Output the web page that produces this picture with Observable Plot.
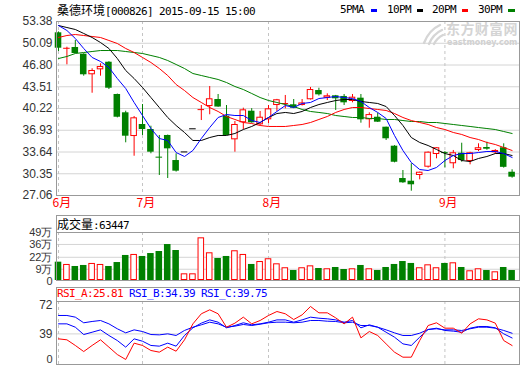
<!DOCTYPE html>
<html><head><meta charset="utf-8">
<script src="https://cdn.jsdelivr.net/npm/d3@7"></script>
<script src="https://cdn.jsdelivr.net/npm/@observablehq/plot@0.6"></script>
<style>
body{margin:0;background:#fff;}
#wrap{position:relative;width:520px;height:365px;overflow:hidden;background:#fff;}
.abs{position:absolute;white-space:nowrap;}
.mono{font-family:"DejaVu Sans Mono","Liberation Mono",monospace;font-size:11px;letter-spacing:-0.62px;}
.cjk{font-family:"Noto Sans CJK SC",sans-serif;font-size:12px;}
.box{position:absolute;border:1px solid #999;box-sizing:border-box;}
#wrap svg{position:absolute;left:0;}
</style></head><body><div id="wrap"></div>
<script>
// ---- data ----
const priceTicks = [27.06, 30.35, 33.64, 36.93, 40.22, 43.51, 46.80, 50.09, 53.38];
const volTicks = [0, 9, 22, 36, 49];
const rsiTicks = [0, 39, 72];
const monthIdx = [0, 10, 25, 46];
const monthLabels = ["6月", "7月", "8月", "9月"];

const open = [51.67,49.28,49.45,48.43,45.32,46.07,47.22,42.34,39.57,35.98,
37.80,37.04,32.86,36.14,32.35,33.65,37.15,40.00,40.52,41.58,
39.06,35.48,38.06,39.81,37.75,38.51,40.67,40.92,40.78,40.67,
41.54,42.94,41.78,42.14,42.04,41.28,41.78,38.51,38.90,37.39,
34.52,29.63,29.22,30.09,31.34,33.26,33.58,31.86,33.46,32.20,
33.87,34.32,33.52,34.28,30.58];
const high = [51.80,49.49,50.51,48.50,46.23,46.98,47.30,42.40,39.81,39.01,
40.82,37.54,36.14,36.20,33.37,33.65,37.15,40.67,43.55,42.34,
40.67,38.25,40.27,40.20,39.77,40.67,41.60,42.19,41.58,41.58,
43.40,43.29,42.44,42.20,42.34,42.34,42.34,39.57,39.51,37.40,
34.60,30.84,31.86,30.60,33.65,34.30,33.70,33.87,34.97,33.60,
34.88,35.12,34.00,34.88,30.95];
const low = [48.84,46.83,48.50,45.11,42.53,45.11,43.09,38.80,35.03,33.00,
36.14,33.37,30.09,29.63,30.60,33.65,37.15,38.40,39.27,40.40,
36.10,33.61,37.04,38.00,37.65,37.95,39.77,40.17,40.20,40.60,
41.50,42.10,41.43,39.92,40.67,41.08,38.00,37.24,38.10,35.38,
32.00,28.90,27.71,29.43,31.20,32.61,31.25,31.10,32.10,31.70,
33.70,33.90,33.30,31.20,29.68];
const close = [49.34,49.38,48.54,45.32,45.97,46.57,43.29,38.90,36.03,38.81,
37.04,33.61,32.86,34.12,30.74,33.65,37.15,40.10,41.69,40.44,
36.14,37.80,40.02,38.06,38.90,40.17,41.54,41.02,40.27,41.06,
43.09,42.29,42.14,41.69,41.08,41.93,38.51,39.30,38.15,35.64,
32.09,28.98,28.68,30.58,33.61,34.28,33.52,33.52,32.35,33.52,
34.28,34.06,33.87,31.32,29.83];
const volume = [16.7,14.2,12.0,13.1,15.3,14.2,12.0,16.3,24.0,25.1,
22.9,26.1,28.3,35.9,29.4,4.0,4.0,43.2,26.9,20.7,
22.9,29.1,25.1,14.2,17.4,20.4,14.9,10.6,7.6,10.6,
12.7,9.8,9.5,10.9,8.7,9.5,13.1,9.5,7.6,10.9,
14.2,17.4,15.3,10.6,13.8,10.6,15.3,16.0,10.9,7.3,
9.5,7.6,6.2,10.9,7.6];
const ma5 = [52.77,52.02,50.81,49.30,47.94,47.33,46.42,44.76,43.25,41.13,
39.16,37.19,35.68,35.38,33.56,32.96,33.87,35.68,37.34,38.86,
39.31,39.16,39.16,38.40,38.10,38.86,39.77,40.67,40.37,40.98,
41.13,41.73,41.88,42.03,41.88,41.73,41.28,40.37,39.62,38.71,
36.14,33.87,32.05,30.99,30.84,31.30,32.35,33.11,33.41,33.41,
33.56,33.72,33.72,33.41,32.81];
const ma10 = [52.77,52.47,52.17,51.57,50.96,50.20,49.30,47.78,45.97,44.76,
43.40,41.88,40.37,38.86,37.65,36.59,35.38,35.38,35.83,36.14,
36.14,36.44,37.04,37.50,38.10,38.86,39.46,39.62,39.46,39.77,
40.37,40.82,41.13,41.43,41.58,41.58,41.28,41.13,40.98,40.52,
39.16,37.65,35.83,35.08,34.62,34.02,33.41,33.11,32.35,32.20,
32.66,32.96,33.41,33.41,33.11];
const ma20 = [50.96,51.26,51.41,51.26,51.11,50.96,50.51,50.05,49.30,48.69,
47.94,47.18,46.27,45.21,43.85,42.94,41.88,41.13,40.37,39.77,
39.01,38.56,38.10,37.95,37.65,37.50,37.50,37.50,37.65,37.80,
38.10,38.56,39.01,39.62,40.07,40.37,40.37,40.22,40.07,39.92,
39.46,38.86,38.40,38.10,37.80,37.34,37.04,36.59,36.29,35.83,
35.53,35.08,34.77,34.32,33.87];
const ma30 = [47.78,48.09,48.54,48.69,48.84,48.99,48.99,48.99,48.84,48.69,
48.54,48.24,47.94,47.48,46.88,46.27,45.51,45.21,44.91,44.61,
44.15,43.55,43.09,42.49,41.88,41.43,41.13,40.82,40.52,40.07,
39.77,39.62,39.46,39.16,39.01,38.86,38.86,38.71,38.71,38.56,
38.56,38.40,38.25,38.25,38.10,38.10,37.95,37.80,37.65,37.50,
37.34,37.19,37.04,36.74,36.44];
const rsiA = [33.4,32.3,25.9,19.0,25.9,32.3,24.0,15.6,10.0,28.5,
25.9,20.2,18.3,24.0,19.4,32.3,50.4,61.8,66.3,61.8,
46.6,51.2,58.0,50.4,54.2,59.9,64.4,61.8,55.3,60.6,
70.1,62.9,62.9,57.2,50.4,58.0,34.5,41.7,37.2,27.7,
18.3,12.6,12.6,31.5,48.5,51.6,45.5,45.5,39.8,50.4,
56.1,54.9,51.2,31.5,25.81];
const rsiB = [50.4,50.4,46.6,38.3,40.9,43.6,37.2,31.5,24.0,33.4,
30.7,25.9,25.1,28.5,25.1,37.2,45.9,51.2,54.9,52.3,
45.9,48.5,51.6,49.3,50.4,52.3,54.9,54.9,52.3,54.9,
58.0,56.8,56.1,54.9,52.3,54.2,45.9,49.3,46.6,40.9,
35.3,27.7,25.9,35.3,44.0,45.5,42.9,42.1,40.9,45.5,
47.4,47.4,45.9,39.1,34.39];
const rsiC = [59.9,59.9,58.0,51.6,53.1,54.2,50.4,44.8,40.2,43.6,
41.7,38.3,37.9,39.1,37.2,42.9,46.6,49.3,52.3,50.4,
46.6,47.8,49.7,48.5,50.0,51.6,52.3,52.3,51.6,52.3,
54.2,54.2,53.4,53.1,51.6,52.3,48.5,48.5,46.6,43.6,
40.2,37.2,37.2,39.8,44.0,44.8,43.6,43.6,42.9,44.8,
46.6,46.6,45.5,42.9,39.75];

// ---- styles ----
const RED = "#ff0000", GREEN = "#008000", BLUE = "#0000ff";
const BORDER = "#999999", GRID = "#d4d4d4", DASH = "#c4c4c4";

const N = close.length;
const xDomain = [-0.24, N - 0.12];
const bw = 0.39;
const rows = d3.range(N).map(i => ({i, o: open[i], h: high[i], l: low[i], c: close[i], v: volume[i]}));
const up = d => d.c > d.o || (d.c === d.o && d.i > 0 && d.c >= close[d.i - 1]);
const kColor = d => d.h === d.l ? "#000000" : (up(d) ? RED : GREEN);
const isCross = d => Math.abs(d.c - d.o) < 0.15;
const bodies = rows.filter(d => !isCross(d));
const crosses = rows.filter(isCross);
const bx1 = d => d.i - bw, bx2 = d => d.i + bw;

const baseStyle = {background: "transparent", fontFamily: "'Liberation Sans', Arial, sans-serif", fontSize: "12px", color: "#333", overflow: "visible"};
const common = {
  width: 520, marginLeft: 56, marginRight: 1,
  x: {type: "linear", domain: xDomain, axis: null},
  style: baseStyle
};
const monthRules = () => Plot.ruleX(monthIdx, {stroke: DASH, strokeDasharray: "3,3"});
const seriesLine = (arr, color) => Plot.line(arr, {x: (d, i) => i, y: d => d, stroke: color, strokeWidth: 1});
const zeroLabel = (dy, size) => Plot.text([0], {y: d => d, frameAnchor: "left", dx: -4, dy, textAnchor: "end", text: d => String(d), fill: "#333", fontSize: size});

const main = Plot.plot({
  ...common, height: 214, marginTop: 21, marginBottom: 19,
  y: {domain: [priceTicks[0], priceTicks[priceTicks.length - 1]], ticks: priceTicks, tickFormat: d => d.toFixed(2), tickSize: 0, tickPadding: 4, label: null},
  marks: [
    Plot.ruleY(priceTicks.slice(1, -1), {stroke: GRID}),
    monthRules(),
    Plot.ruleX(rows, {x: "i", y1: "l", y2: "h", stroke: kColor}),
    Plot.rect(bodies.filter(d => !up(d)), {x1: bx1, x2: bx2, y1: "o", y2: "c", fill: GREEN}),
    Plot.rect(bodies.filter(up), {x1: bx1, x2: bx2, y1: "o", y2: "c", fill: "#ffffff", stroke: RED, inset: 0.5}),
    Plot.ruleY(crosses, {y: d => (d.o + d.c) / 2, x1: bx1, x2: bx2, stroke: kColor}),
    seriesLine(ma30, GREEN),
    seriesLine(ma20, RED),
    seriesLine(ma10, "#000000"),
    seriesLine(ma5, BLUE),
    Plot.text(monthIdx, {x: d => d, frameAnchor: "bottom", dy: 11, dx: -6, textAnchor: "start", text: (d, i) => monthLabels[i], fill: RED, fontFamily: "Noto Sans CJK SC", fontSize: 12}),
    Plot.frame({stroke: BORDER})
  ]
});

const vol = Plot.plot({
  ...common, height: 60, marginTop: 10, marginBottom: 2,
  style: {...baseStyle, fontSize: "11px"},
  y: {domain: [0, 49], insetBottom: 3, ticks: volTicks.slice(1), tickFormat: d => d + "万", tickSize: 0, tickPadding: 4, label: null},
  marks: [
    Plot.ruleY(volTicks.slice(1, -1), {stroke: GRID}),
    monthRules(),
    Plot.rect(rows.filter(d => !up(d)), {x1: bx1, x2: bx2, y1: 0, y2: "v", fill: GREEN, insetBottom: -3}),
    Plot.rect(rows.filter(up), {x1: bx1, x2: bx2, y1: 0, y2: "v", fill: "#ffffff", stroke: RED, insetLeft: 0.5, insetRight: 0.5, insetTop: 0.5, insetBottom: -2.5}),
    zeroLabel(4, 11),
    Plot.frame({stroke: BORDER})
  ]
});

const rsi = Plot.plot({
  ...common, height: 70, marginTop: 6, marginBottom: 1,
  y: {domain: [0, 72], insetTop: 3.3, insetBottom: -3.8, ticks: rsiTicks.slice(1), tickSize: 0, tickPadding: 4, label: null},
  marks: [
    Plot.ruleY([rsiTicks[1]], {stroke: GRID}),
    monthRules(),
    seriesLine(rsiC, BLUE),
    seriesLine(rsiB, BLUE),
    seriesLine(rsiA, RED),
    zeroLabel(-9, 11),
    Plot.frame({stroke: BORDER})
  ]
});

// ---- layout ----
const wrap = document.getElementById("wrap");
wrap.innerHTML = `
  <svg width="24" height="24" style="left:421px;top:22px;" viewBox="0 0 24 24">
    <g fill="none" stroke="#d6d6d6" stroke-width="2.4" stroke-linecap="round">
      <path d="M3 21 Q8 8 19 3"/>
      <path d="M8 22 Q12 12 21 8"/>
      <path d="M13 22 Q16 16 22 13"/>
    </g>
  </svg>
  <div class="abs" style="left:446px;top:21px;font-family:'Noto Sans CJK SC';font-weight:bold;font-size:14px;line-height:14px;letter-spacing:0.4px;color:#d4d4d4;">东方财富网</div>
  <div class="abs" style="left:447px;top:38px;font-family:'DejaVu Sans';font-weight:bold;font-size:8px;line-height:9px;color:#d0d0d0;">eastmoney.com</div>
  <div class="abs" style="left:57px;top:2px;line-height:15px;color:#000;"><span class="cjk">桑德环境</span><span class="mono">[000826] 2015-09-15 15:00</span></div>
  <div class="abs mono" style="left:340px;top:3px;line-height:14px;color:#000;">5PMA</div>
  <div class="abs" style="left:371px;top:9px;width:6px;height:3px;background:${BLUE};"></div>
  <div class="abs mono" style="left:387px;top:3px;line-height:14px;color:#000;">10PM</div>
  <div class="abs" style="left:417px;top:9px;width:6px;height:3px;background:#000;"></div>
  <div class="abs mono" style="left:432px;top:3px;line-height:14px;color:#000;">20PM</div>
  <div class="abs" style="left:462px;top:9px;width:6px;height:3px;background:${RED};"></div>
  <div class="abs mono" style="left:478px;top:3px;line-height:14px;color:#000;">30PM</div>
  <div class="abs" style="left:508px;top:9px;width:7px;height:3px;background:${GREEN};"></div>
  <div class="box" style="left:56px;top:215px;width:464px;height:18px;"></div>
  <div class="abs" style="left:57px;top:216px;line-height:16px;color:#000;"><span class="cjk">成交量</span><span class="mono">:63447</span></div>
  <div class="box" style="left:56px;top:287px;width:464px;height:15px;"></div>
  <div class="abs mono" style="left:57px;top:287px;line-height:14px;"><span style="color:${RED}">RSI_A:25.81</span> <span style="color:${BLUE}">RSI_B:34.39</span> <span style="color:${BLUE}">RSI_C:39.75</span></div>
`;
main.style.top = "0px";
vol.style.top = "222px";
rsi.style.top = "295px";
wrap.appendChild(main);
wrap.appendChild(vol);
wrap.appendChild(rsi);
</script></body></html>
